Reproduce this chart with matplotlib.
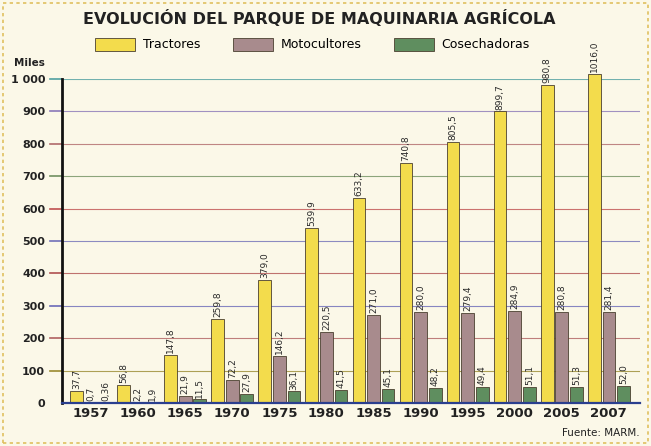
import matplotlib.pyplot as plt
import numpy as np
from matplotlib.patches import Rectangle

# Data (miles de unidades)
years = ["1957", "1960", "1965", "1970", "1975", "1980", "1985", "1990",
         "1995", "2000", "2005", "2007"]
tractores = [37.7, 56.8, 147.8, 259.8, 379.0, 539.9, 633.2, 740.8,
             805.5, 899.7, 980.8, 1016.0]
motocultores = [0.7, 2.2, 21.9, 72.2, 146.2, 220.5, 271.0, 280.0,
                279.4, 284.9, 280.8, 281.4]
cosechadoras = [0.36, 1.9, 11.5, 27.9, 36.1, 41.5, 45.1, 48.2,
                49.4, 51.1, 51.3, 52.0]
tractores_lbl = ["37,7", "56,8", "147,8", "259,8", "379,0", "539,9", "633,2",
                 "740,8", "805,5", "899,7", "980,8", "1016,0"]
motocultores_lbl = ["0,7", "2,2", "21,9", "72,2", "146,2", "220,5", "271,0",
                    "280,0", "279,4", "284,9", "280,8", "281,4"]
cosechadoras_lbl = ["0,36", "1,9", "11,5", "27,9", "36,1", "41,5", "45,1",
                    "48,2", "49,4", "51,1", "51,3", "52,0"]
yticks = [0, 100, 200, 300, 400, 500, 600, 700, 800, 900, 1000]

bg = "#fbf8e8"
fig = plt.figure(figsize=(6.51, 4.46), dpi=100, facecolor=bg)
ax = fig.add_axes([0.095, 0.096, 0.888, 0.727], facecolor=bg)

x = np.arange(len(years))
w = 0.27
off = 0.31
series = [
    (tractores, tractores_lbl, "#f3dc4c", "Tractores", -off),
    (motocultores, motocultores_lbl, "#a88b8d", "Motocultores", 0),
    (cosechadoras, cosechadoras_lbl, "#5f8e5f", "Cosechadoras", off),
]
for vals, lbls, col, name, dx in series:
    ax.bar(x + dx, vals, w, color=col, edgecolor="#4a4030", linewidth=0.6,
           label=name, clip_on=False, zorder=3)
    for xi, v, t in zip(x + dx, vals, lbls):
        ax.text(xi, v + 6, t, rotation=90, ha="center", va="bottom",
                fontsize=6.5, color="#2a2a2a", zorder=4)

# coloured grid lines like the original
grid_cols = ["#3a5fa0", "#9a8a30", "#b06060", "#6a6ab8", "#b05050",
             "#7070b8", "#c05050", "#709060", "#b06a6a", "#8a78b8", "#50a0a0"]
for yv, c in zip(yticks, grid_cols):
    if yv > 0:
        ax.axhline(yv, color=c, linewidth=0.8, alpha=0.8, zorder=1)
        ax.plot([-0.88, -0.62], [yv, yv], color=c, linewidth=1.2,
                clip_on=False, zorder=1)

ax.set_xlim(-0.62, 11.66)
ax.set_ylim(0, 1000)
ax.set_yticks(yticks)
ax.set_yticklabels([str(v) if v < 1000 else "1 000" for v in yticks],
                   fontsize=8, fontweight="bold", color="#222222")
ax.tick_params(axis="y", length=0, pad=12)
ax.set_xticks(x)
ax.set_xticklabels(years, fontsize=9.5, fontweight="bold", color="#222222")
ax.tick_params(axis="x", length=0, pad=3)

for s in ["top", "right"]:
    ax.spines[s].set_visible(False)
ax.spines["left"].set_linewidth(2)
ax.spines["left"].set_color("#111111")
ax.spines["bottom"].set_linewidth(1.6)
ax.spines["bottom"].set_color("#2a3f8f")
ax.spines["left"].set_zorder(5)
ax.spines["bottom"].set_zorder(5)

fig.text(0.022, 0.853, "Miles", fontsize=7.5, fontweight="bold",
         color="#222222")
fig.text(0.49, 0.958, "EVOLUCIÓN DEL PARQUE DE MAQUINARIA AGRÍCOLA",
         ha="center", va="center", fontsize=11.5, fontweight="bold",
         color="#222222")
fig.legend(loc="center", bbox_to_anchor=(0.48, 0.90), ncol=3, frameon=False,
           fontsize=9, handlelength=3.2, handleheight=1.2, columnspacing=2.6,
           handletextpad=0.6)
fig.text(0.983, 0.03, "Fuente: MARM.", ha="right", va="center",
         fontsize=7.5, color="#222222")

fig.patches.append(Rectangle((0.004, 0.006), 0.992, 0.988,
                             transform=fig.transFigure, fill=False,
                             edgecolor="#e0c060", linewidth=1.2,
                             linestyle=(0, (2, 2))))

fig.savefig("out.png", dpi=100, facecolor=bg)
